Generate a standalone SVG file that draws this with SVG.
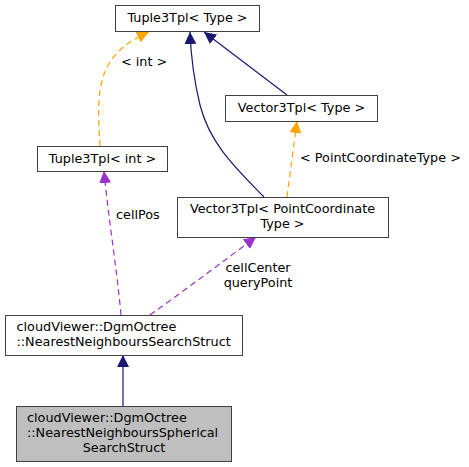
<svg xmlns="http://www.w3.org/2000/svg" width="469" height="467" viewBox="0 0 469 467">
<style>
  text { font-family: "DejaVu Sans", sans-serif; font-size: 12.8px; fill: #000; }
  .box { fill: #fff; stroke: #404040; stroke-width: 1; }
  .cur { fill: #bfbfbf; stroke: #404040; stroke-width: 1; }
  .blue { fill: none; stroke: #191970; stroke-width: 1.2; }
  .orange { fill: none; stroke: orange; stroke-width: 1.2; stroke-dasharray: 6,4; }
  .purple { fill: none; stroke: #9a32cd; stroke-width: 1.2; stroke-dasharray: 6,4; }
</style>
<defs>
  <marker id="aBlue" markerUnits="userSpaceOnUse" markerWidth="14" markerHeight="12" refX="12" refY="6" orient="auto">
    <path d="M0,0 L12,6 L0,12 Z" fill="#191970"/>
  </marker>
  <marker id="aOrange" markerUnits="userSpaceOnUse" markerWidth="14" markerHeight="12" refX="12" refY="6" orient="auto">
    <path d="M0,0 L12,6 L0,12 Z" fill="orange"/>
  </marker>
  <marker id="aPurple" markerUnits="userSpaceOnUse" markerWidth="14" markerHeight="12" refX="12" refY="6" orient="auto">
    <path d="M0,0 L12,6 L0,12 Z" fill="#9a32cd"/>
  </marker>
</defs>
<rect width="469" height="467" fill="#fff"/>
<g id="edges">
  <path class="blue" d="M123,406 L123,355" marker-end="url(#aBlue)"/>
  <path class="purple" d="M121,315 C117,270 108,215 104,171" marker-end="url(#aPurple)"/>
  <path class="purple" d="M150,315 C185,290 225,260 256,237" marker-end="url(#aPurple)"/>
  <path class="blue" d="M264,197 C238,170 210,145 200,105 C194,80 191,60 190,32" marker-end="url(#aBlue)"/>
  <path class="blue" d="M287,95 L204,32" marker-end="url(#aBlue)"/>
  <path class="orange" d="M287,197 L297,121" marker-end="url(#aOrange)"/>
  <path class="orange" d="M100,146 C98,110 95,75 118,52 C128,42 138,37 149,32" marker-end="url(#aOrange)"/>
  <text x="121" y="66">&lt; int &gt;</text>
  <text x="300" y="162">&lt; PointCoordinateType &gt;</text>
  <text x="116" y="219">cellPos</text>
  <text x="258" y="272" text-anchor="middle">cellCenter</text>
  <text x="258" y="287" text-anchor="middle">queryPoint</text>
</g>
<g id="node-tuple-type">
  <rect class="box" x="115.5" y="5.5" width="144" height="26"/>
  <text x="187.5" y="22" text-anchor="middle">Tuple3Tpl&lt; Type &gt;</text>
</g>
<g id="node-vector-type">
  <rect class="box" x="225.5" y="95.5" width="152" height="26"/>
  <text x="301.5" y="112" text-anchor="middle">Vector3Tpl&lt; Type &gt;</text>
</g>
<g id="node-tuple-int">
  <rect class="box" x="37.5" y="146.5" width="130" height="25"/>
  <text x="102.5" y="163" text-anchor="middle">Tuple3Tpl&lt; int &gt;</text>
</g>
<g id="node-vector-pct">
  <rect class="box" x="177.5" y="197.5" width="211" height="40"/>
  <text x="282.5" y="213" text-anchor="middle">Vector3Tpl&lt; PointCoordinate</text>
  <text x="282.5" y="228" text-anchor="middle">Type &gt;</text>
</g>
<g id="node-nnss">
  <rect class="box" x="5.5" y="315.5" width="237" height="40"/>
  <text x="16.5" y="331">cloudViewer::DgmOctree</text>
  <text x="16.5" y="346">::NearestNeighboursSearchStruct</text>
</g>
<g id="node-nnsss">
  <rect class="cur" x="16.5" y="406.5" width="215" height="55"/>
  <text x="27" y="422">cloudViewer::DgmOctree</text>
  <text x="27" y="437">::NearestNeighboursSpherical</text>
  <text x="124" y="452" text-anchor="middle">SearchStruct</text>
</g>
</svg>
